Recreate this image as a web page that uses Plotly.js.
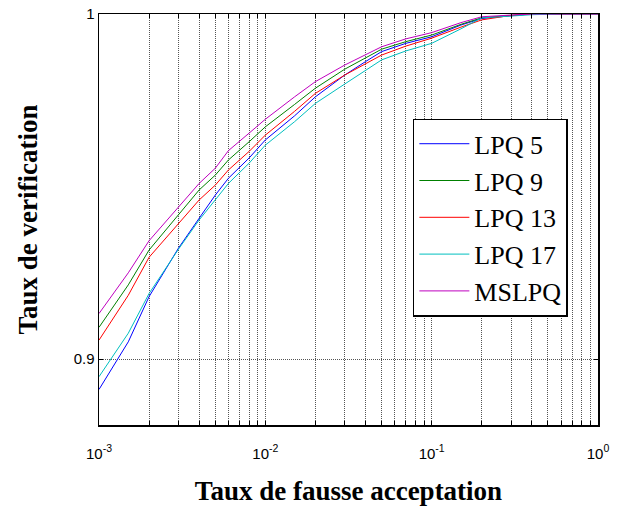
<!DOCTYPE html>
<html>
<head>
<meta charset="utf-8">
<script src="https://cdn.plot.ly/plotly-3.0.1.min.js"></script>
<style>html,body{margin:0;padding:0;background:#fff;}#chart{width:619px;height:506px;}</style>
</head>
<body>
<div id="chart"></div>
<script>
// False acceptance rate (x) sample positions
const far = [0.001, 0.0015, 0.002, 0.003, 0.004, 0.005, 0.006, 0.008, 0.01, 0.015, 0.02, 0.03, 0.04, 0.05, 0.07, 0.1, 0.15, 0.2, 0.3, 0.4, 0.6, 1];
// Verification rates per series
const lpq5  = [0.8912, 0.9050, 0.9181, 0.9321, 0.9408, 0.9475, 0.9524, 0.9583, 0.9635, 0.9705, 0.9760, 0.9823, 0.9862, 0.9891, 0.9915, 0.9934, 0.9968, 0.9987, 0.9995, 1.0000, 1.0000, 1.0000];
const lpq9  = [0.9092, 0.9215, 0.9316, 0.9417, 0.9490, 0.9533, 0.9577, 0.9630, 0.9673, 0.9738, 0.9785, 0.9840, 0.9872, 0.9898, 0.9920, 0.9939, 0.9970, 0.9989, 0.9996, 1.0000, 1.0000, 1.0000];
const lpq13 = [0.9055, 0.9185, 0.9295, 0.9393, 0.9461, 0.9504, 0.9548, 0.9602, 0.9649, 0.9718, 0.9770, 0.9823, 0.9855, 0.9881, 0.9907, 0.9930, 0.9962, 0.9983, 0.9996, 1.0000, 1.0000, 1.0000];
const lpq17 = [0.8949, 0.9075, 0.9190, 0.9318, 0.9403, 0.9461, 0.9509, 0.9568, 0.9620, 0.9688, 0.9741, 0.9797, 0.9835, 0.9867, 0.9893, 0.9915, 0.9957, 0.9989, 0.9994, 0.9998, 1.0000, 1.0000];
const mslpq = [0.9132, 0.9250, 0.9343, 0.9441, 0.9509, 0.9553, 0.9604, 0.9655, 0.9695, 0.9760, 0.9804, 0.9852, 0.9882, 0.9905, 0.9928, 0.9946, 0.9975, 0.9992, 0.9997, 1.0000, 1.0000, 1.0000];
const names = ["LPQ 5", "LPQ 9", "LPQ 13", "LPQ 17", "MSLPQ"];
const colors = ["#0000ff", "#008000", "#ff0000", "#00bfbf", "#bf00bf"];
const series = [lpq5, lpq9, lpq13, lpq17, mslpq];

// x tick positions (major decades + minor 2..9), labels only on decades
const xTickVals = [];
const xTickText = [];
[-3, -2, -1].forEach(function (e) {
  for (let m = 1; m <= 9; m++) {
    xTickVals.push(m * Math.pow(10, e));
    xTickText.push(m === 1 ? "10<sup>" + e + "</sup>" : "");
  }
});
xTickVals.push(1);
xTickText.push("10<sup>0</sup>");
const yTickVals = [0.9, 1];
const yTickText = ["0.9", "1"];

const traces = series.map(function (s, i) {
  return {
    x: far, y: s, name: names[i], type: "scatter", mode: "lines",
    line: {color: colors[i], width: 1},
    legendgroup: "g" + i
  };
});

const layout = {
  width: 619, height: 506,
  margin: {l: 99, r: 21, t: 14, b: 81},
  paper_bgcolor: "#fff", plot_bgcolor: "#fff",
  showlegend: true,
  font: {family: "Liberation Sans, Arial", size: 15, color: "#000"},
  xaxis: {
    type: "log", range: [-3, 0],
    tickvals: xTickVals, ticktext: xTickText,
    ticks: "inside", ticklen: 4, tickcolor: "#000",
    ticklabelstandoff: 14,
    showgrid: true, gridcolor: "#555", griddash: "1px,1px", gridwidth: 1,
    showline: true, linecolor: "#000", linewidth: 1.5, mirror: "ticks",
    zeroline: false,
    tickfont: {family: "Liberation Sans, Arial", size: 15},
    title: {text: "<b>Taux de fausse acceptation</b>", font: {family: "Liberation Serif, Times New Roman", size: 27}, standoff: 20}
  },
  yaxis: {
    range: [0.8809, 1.0],
    tickvals: yTickVals, ticktext: yTickText,
    ticks: "inside", ticklen: 4, tickcolor: "#000",
    showgrid: true, gridcolor: "#555", griddash: "1px,1px", gridwidth: 1,
    showline: true, linecolor: "#000", linewidth: 1.5, mirror: "ticks",
    zeroline: false,
    tickfont: {family: "Liberation Sans, Arial", size: 15},
    title: {text: "<b>Taux de verification</b>", font: {family: "Liberation Serif, Times New Roman", size: 27}, standoff: 28}
  },
  legend: {
    x: 0.629, y: 0.745, xanchor: "left", yanchor: "top",
    bgcolor: "#fff", bordercolor: "#000", borderwidth: 1.5,
    font: {family: "Liberation Serif, Times New Roman", size: 26, color: "#000"},
    itemwidth: 50,
    traceorder: "grouped", tracegroupgap: 0
  }
};

Plotly.newPlot("chart", traces, layout, {displayModeBar: false, staticPlot: true});
</script>
</body>
</html>
